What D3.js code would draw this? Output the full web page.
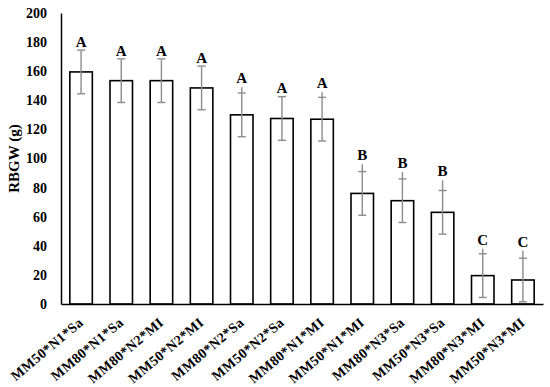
<!DOCTYPE html>
<html lang="en">
  <head>
    <meta charset="utf-8" />
    <title>RBGW</title>
    <script src="https://cdn.jsdelivr.net/npm/d3@7"></script>
    <style>
      body { margin: 0; background: white; }
    </style>
  </head>
  <body>
    <script>
var categories = ["MM50*N1*Sa", "MM80*N1*Sa", "MM80*N2*MI", "MM50*N2*MI", "MM80*N2*Sa", "MM50*N2*Sa",
                  "MM80*N1*MI", "MM50*N1*MI", "MM80*N3*Sa", "MM50*N3*Sa", "MM80*N3*MI", "MM50*N3*MI"];
var values = [159.5, 153.5, 153.5, 148.5, 130, 127.5, 127, 76, 71, 63, 19.5, 16.5];
var errors = [15, 15, 15, 15, 15, 15, 15, 15, 15, 15, 15, 15];
// the whisker line sometimes goes a bit past the cap
var whiskerTop = [174, 168, 168, 163, 149, 142.5, 145.5, 96, 90.7, 85, 38, 36.6];
var letters = ["A", "A", "A", "A", "A", "A", "A", "B", "B", "B", "C", "C"];
var yTicks = [0, 20, 40, 60, 80, 100, 120, 140, 160, 180, 200];

var w = 550;
var h = 387;
var pad = { left: 61, right: 7, top: 13, bottom: 83 };
var font = "'Palatino Linotype', 'Book Antiqua', Palatino, 'Liberation Serif', serif";

var svg = d3.select("body")
            .append("svg")
            .attr("width", w)
            .attr("height", h);

var xScale = d3.scaleBand()
               .domain(categories)
               .range([pad.left, w - pad.right])
               .paddingInner(0.44)
               .paddingOuter(0.22);
var yScale = d3.scaleLinear()
               .domain([0, 200])
               .range([h - pad.bottom, pad.top]);

// bars
svg.append("g")
   .selectAll("rect")
   .data(values)
   .enter()
   .append("rect")
   .attr("x", function(d, i) { return xScale(categories[i]); })
   .attr("y", function(d) { return yScale(d); })
   .attr("width", xScale.bandwidth())
   .attr("height", function(d) { return yScale(0) - yScale(d); })
   .attr("fill", "white")
   .attr("stroke", "black")
   .attr("stroke-width", 1.6);

// error bars
var cx = function(i) { return xScale(categories[i]) + xScale.bandwidth() / 2; };
var errG = svg.append("g")
              .attr("stroke", "#8c8c8c")
              .attr("stroke-width", 1.4);
values.forEach(function(v, i) {
  var lo = yScale(v - errors[i]);
  var hi = yScale(v + errors[i]);
  errG.append("line")
      .attr("x1", cx(i)).attr("x2", cx(i))
      .attr("y1", lo).attr("y2", yScale(whiskerTop[i]));
  errG.append("line")
      .attr("x1", cx(i) - 4).attr("x2", cx(i) + 4)
      .attr("y1", lo).attr("y2", lo);
  errG.append("line")
      .attr("x1", cx(i) - 4).attr("x2", cx(i) + 4)
      .attr("y1", hi).attr("y2", hi);
});

// letters
svg.append("g")
   .selectAll("text")
   .data(letters)
   .enter()
   .append("text")
   .text(function(d) { return d; })
   .attr("x", function(d, i) { return cx(i); })
   .attr("y", function(d, i) { return yScale(whiskerTop[i]) - 4; })
   .attr("text-anchor", "middle")
   .attr("font-family", font)
   .attr("font-weight", "bold")
   .attr("font-size", "15px");

// y axis
var yAxis = d3.axisLeft(yScale)
              .tickValues(yTicks)
              .tickSize(0)
              .tickPadding(14);
var yg = svg.append("g")
            .attr("transform", "translate(" + pad.left + ",0)")
            .call(yAxis);
yg.select(".domain").attr("stroke", "black").attr("stroke-width", 1.5);
yg.selectAll("text")
  .attr("font-family", font)
  .attr("font-weight", "bold")
  .attr("font-size", "14px")
  .attr("fill", "black");

// x axis
var xAxis = d3.axisBottom(xScale).tickSize(0).tickPadding(0);
var xg = svg.append("g")
            .attr("transform", "translate(0," + yScale(0) + ")")
            .call(xAxis);
xg.select(".domain").attr("stroke", "black").attr("stroke-width", 1.5);
xg.selectAll("text")
  .attr("font-family", font)
  .attr("font-weight", "bold")
  .attr("font-size", "14px")
  .attr("letter-spacing", "0.3px")
  .attr("fill", "black")
  .attr("text-anchor", "end")
  .attr("dy", "0")
  .attr("transform", "translate(3,20) rotate(-40)");

// y title
svg.append("text")
   .text("RBGW (g)")
   .attr("transform", "translate(19," + yScale(100) + ") rotate(-90)")
   .attr("text-anchor", "middle")
   .attr("font-family", font)
   .attr("font-weight", "bold")
   .attr("font-size", "15px");
    </script>
  </body>
</html>
